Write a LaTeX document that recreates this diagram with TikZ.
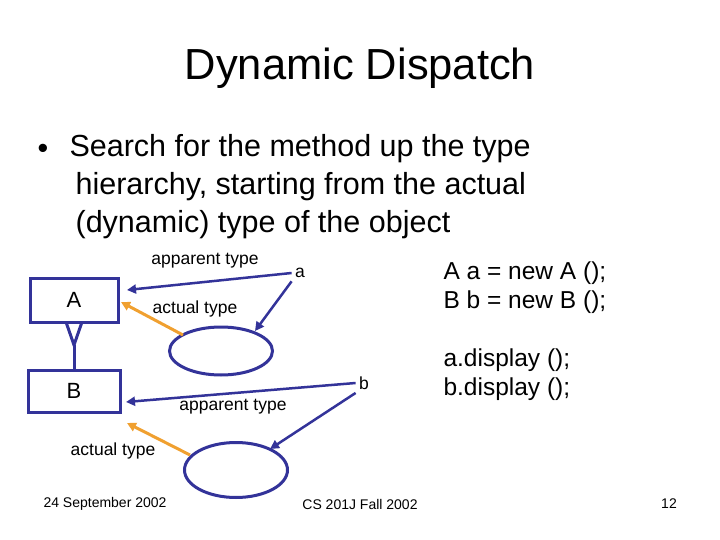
\documentclass[tikz,border=0pt]{standalone}
\usepackage{fontspec}
\setmainfont{Liberation Sans}
\usetikzlibrary{arrows.meta,shapes.geometric}
\definecolor{navy}{HTML}{333399}
\definecolor{org}{HTML}{F0A030}
\begin{document}
\begin{tikzpicture}[x=1pt,y=-1pt,
  box/.style={draw=navy,line width=3pt},
  ell/.style={draw=navy,line width=3pt},
  nav/.style={draw=navy,line width=2.5pt,-{Triangle[length=9pt,width=9pt]}},
  act/.style={draw=org,line width=3pt,-{Triangle[length=9pt,width=9pt]}},
  lbl/.style={font=\fontsize{17.5}{20}\selectfont},
  code/.style={font=\fontsize{24.5}{29}\selectfont,align=left,anchor=west},
  foot/.style={font=\fontsize{14}{16}\selectfont}]
\useasboundingbox (0,0) rectangle (720,540);
\node (title) at (360,68) {\fontsize{43.5}{50}\selectfont Dynamic Dispatch};
\node[anchor=west,font=\fontsize{30.5}{38}\selectfont] (dot) at (34,151) {•};
\node[anchor=north west,align=left,font=\fontsize{30.5}{38}\selectfont] (bul) at (66,131)
 {Search for the method up the type\\\hspace*{0.2em}hierarchy, starting from the actual\\\hspace*{0.2em}(dynamic) type of the object};
\node[box,minimum width=88pt,minimum height=44pt,font=\fontsize{22}{26}\selectfont] (A) at (74,300) {A};
\node[box,minimum width=92pt,minimum height=42pt,font=\fontsize{22}{26}\selectfont] (B) at (74,391) {B};
\coordinate (apex) at (74,345);
\draw[draw=navy,line width=3pt,line join=miter] (66,322) -- (apex) -- (82,322);
\draw[draw=navy,line width=3pt] (apex) -- (B.north);
\node[ell,ellipse,minimum width=103pt,minimum height=48pt] (e1) at (221,351) {};
\node[ell,ellipse,minimum width=103pt,minimum height=55pt] (e2) at (236,470) {};
\node[lbl] (a) at (300,273) {a};
\node[lbl] (b) at (364,383) {b};
\node[lbl] (l1) at (205,261) {apparent type};
\node[lbl] (l2) at (195,309) {actual type};
\node[lbl] (l3) at (233,407) {apparent type};
\node[lbl] (l4) at (113,451) {actual type};
\draw[nav] (a.west) -- (127,290);
\draw[nav] (a.south west) -- (255,331);
\draw[act] (183,335) -- (121,302);
\draw[nav] (b.west) -- (126,402);
\draw[nav] (b.south west) -- (270,449);
\draw[act] (190,455) -- (127,423);
\node[code] (c1) at (440,288) {A a = new A ();\\B b = new B ();};
\node[code] (c2) at (440,375) {a.display ();\\b.display ();};
\node[foot] (f1) at (105,504) {24 September 2002};
\node[foot] (f2) at (360,504) {CS 201J Fall 2002};
\node[foot] (f3) at (669,504) {12};
\end{tikzpicture}
\end{document}
